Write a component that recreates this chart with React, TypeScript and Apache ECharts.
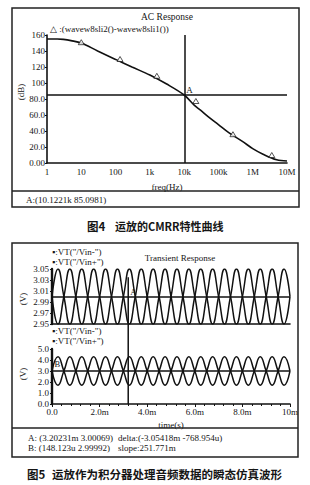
import React, { useEffect, useRef } from "react";
import * as echarts from "echarts";

// ---------- AC response (Fig.4) ----------
const acFreq = [1, 2, 3, 5, 10, 30, 100, 300, 1000, 3000, 10000, 20000, 30000, 50000, 100000, 200000, 500000, 1000000, 2000000, 5000000, 10000000];
const acDb = [155, 155, 154.5, 153, 150, 140, 129.5, 120, 110, 99, 85, 72, 66, 58, 48, 38, 27, 18, 11, 4, 2.5];
const acMarkFreq = [10, 135, 1600, 22000, 265000, 3600000];
const acMarkDb = [151, 130, 109, 77.5, 36, 10];
const acTickLabels = ["1", "10", "100", "1k", "10k", "100k", "1M", "10M"];
const acCursorFreq = 10122.1;
const acCursorDb = 85.0981;

// ---------- Transient response (Fig.5) ----------
const timeMs = [0, 0.25, 0.5, 0.75, 1, 1.25, 1.5, 1.75, 2, 2.25, 2.5, 2.75, 3, 3.25, 3.5, 3.75, 4, 4.25, 4.5, 4.75, 5, 5.25, 5.5, 5.75, 6, 6.25, 6.5, 6.75, 7, 7.25, 7.5, 7.75, 8, 8.25, 8.5, 8.75, 9, 9.25, 9.5, 9.75, 10];
const vinMinusTop = [3, 3.05, 3, 2.95, 3, 3.05, 3, 2.95, 3, 3.05, 3, 2.95, 3, 3.05, 3, 2.95, 3, 3.05, 3, 2.95, 3, 3.05, 3, 2.95, 3, 3.05, 3, 2.95, 3, 3.05, 3, 2.95, 3, 3.05, 3, 2.95, 3, 3.05, 3, 2.95, 3];
const vinPlusTop = [3, 2.95, 3, 3.05, 3, 2.95, 3, 3.05, 3, 2.95, 3, 3.05, 3, 2.95, 3, 3.05, 3, 2.95, 3, 3.05, 3, 2.95, 3, 3.05, 3, 2.95, 3, 3.05, 3, 2.95, 3, 3.05, 3, 2.95, 3, 3.05, 3, 2.95, 3, 3.05, 3];
const vinMinusBot = [3, 4.3, 3, 1.7, 3, 4.3, 3, 1.7, 3, 4.3, 3, 1.7, 3, 4.3, 3, 1.7, 3, 4.3, 3, 1.7, 3, 4.3, 3, 1.7, 3, 4.3, 3, 1.7, 3, 4.3, 3, 1.7, 3, 4.3, 3, 1.7, 3, 4.3, 3, 1.7, 3];
const vinPlusBot = [3, 1.7, 3, 4.3, 3, 1.7, 3, 4.3, 3, 1.7, 3, 4.3, 3, 1.7, 3, 4.3, 3, 1.7, 3, 4.3, 3, 1.7, 3, 4.3, 3, 1.7, 3, 4.3, 3, 1.7, 3, 4.3, 3, 1.7, 3, 4.3, 3, 1.7, 3, 4.3, 3];
const cursorAms = 3.20231;
const cursorAv = 3.00069;
const cursorBms = 0.148123;
const cursorBv = 2.99992;
const hLevel = 3.0;

const TXT = "#151515";
const LINE = "#111";
const SERIF = '"Liberation Serif", "Times New Roman", serif';
const CJK = '"Noto Sans CJK SC", sans-serif';

function txt(text: string, x: number, y: number, size = 9, extra: any = {}) {
  return {
    type: "text",
    style: {
      text,
      x,
      y,
      fill: TXT,
      fontFamily: SERIF,
      fontSize: size,
      textAlign: "left",
      textVerticalAlign: "middle",
      ...extra,
    },
    z: 10,
  };
}

export default function App() {
  const ref = useRef<HTMLDivElement>(null);

  useEffect(() => {
    if (!ref.current) return;
    const chart = echarts.init(ref.current, null, { renderer: "svg", width: 310, height: 485 });
    const axisLine = { show: true, onZero: false, lineStyle: { color: LINE, width: 1.6 } };
    const labelBase = { fontFamily: SERIF, fontSize: 9, color: TXT };
    const lineSeries = (data: number[], xi: number) => ({
      type: "line",
      xAxisIndex: xi,
      yAxisIndex: xi,
      data: timeMs.map((t, i) => [t, data[i]]),
      smooth: true,
      symbol: "none",
      lineStyle: { color: LINE, width: 1.5 },
      silent: true,
    });
    const hMark = (v: number) => ({
      symbol: "none",
      silent: true,
      label: { show: false },
      lineStyle: { color: LINE, width: 1.5, type: "solid" },
      data: [{ yAxis: v }],
    });

    const option: any = {
      animation: false,
      backgroundColor: "#fff",
      grid: [
        { left: 47, top: 35, width: 240, height: 128 },
        { left: 52, top: 269, width: 238, height: 55 },
        { left: 52, top: 349, width: 238, height: 55 },
      ],
      xAxis: [
        {
          gridIndex: 0,
          type: "log",
          logBase: 10,
          min: 1,
          max: 1e7,
          axisLine,
          axisTick: { show: false },
          splitLine: { show: false },
          axisLabel: {
            ...labelBase,
            margin: 4,
            formatter: (v: number) => acTickLabels[Math.round(Math.log10(v))] ?? "",
          },
          name: "freq(Hz)",
          nameLocation: "middle",
          nameGap: 19,
          nameTextStyle: labelBase,
        },
        {
          gridIndex: 1,
          type: "value",
          min: 0,
          max: 10,
          interval: 2,
          axisLine,
          axisTick: { show: false },
          axisLabel: { show: false },
          splitLine: { show: false },
        },
        {
          gridIndex: 2,
          type: "value",
          min: 0,
          max: 10,
          interval: 2,
          axisLine,
          axisTick: { show: true, length: 3, lineStyle: { color: LINE } },
          minorTick: { show: true, splitNumber: 5, length: 2, lineStyle: { color: LINE } },
          splitLine: { show: false },
          axisLabel: {
            ...labelBase,
            margin: 3,
            formatter: (v: number) => (v === 0 ? "0.0" : v === 10 ? "10m" : v.toFixed(1) + "m"),
          },
          name: "time(s)",
          nameLocation: "middle",
          nameGap: 16,
          nameTextStyle: labelBase,
        },
      ],
      yAxis: [
        {
          gridIndex: 0,
          type: "value",
          min: 0,
          max: 160,
          interval: 20,
          axisLine,
          axisTick: { show: true, length: 2, lineStyle: { color: LINE } },
          splitLine: { show: false },
          axisLabel: {
            ...labelBase,
            margin: 2,
            formatter: (v: number) => (v >= 100 ? String(v) : v === 0 ? "0.00" : v.toFixed(1)),
          },
        },
        {
          gridIndex: 1,
          type: "value",
          min: 2.95,
          max: 3.05,
          interval: 0.02,
          axisLine: { ...axisLine, lineStyle: { color: LINE, width: 2.4 } },
          axisTick: { show: true, length: 2, lineStyle: { color: LINE } },
          splitLine: { show: false },
          axisLabel: { ...labelBase, margin: 3, formatter: (v: number) => v.toFixed(2) },
        },
        {
          gridIndex: 2,
          type: "value",
          min: 0,
          max: 5,
          interval: 1,
          axisLine: { ...axisLine, lineStyle: { color: LINE, width: 2.4 } },
          axisTick: { show: true, length: 2, lineStyle: { color: LINE } },
          splitLine: { show: false },
          axisLabel: { ...labelBase, margin: 3, formatter: (v: number) => v.toFixed(1) },
        },
      ],
      series: [
        {
          type: "line",
          xAxisIndex: 0,
          yAxisIndex: 0,
          data: acFreq.map((f, i) => [f, acDb[i]]),
          smooth: 0.35,
          symbol: "none",
          lineStyle: { color: LINE, width: 1.6 },
          silent: true,
          markLine: {
            symbol: "none",
            silent: true,
            label: { show: false },
            lineStyle: { color: LINE, width: 1.5, type: "solid" },
            data: [{ xAxis: acCursorFreq }, { yAxis: acCursorDb }],
          },
        },
        {
          type: "scatter",
          xAxisIndex: 0,
          yAxisIndex: 0,
          data: acMarkFreq.map((f, i) => [f, acMarkDb[i]]),
          symbol: "triangle",
          symbolSize: [6, 5],
          itemStyle: { color: "#fff", borderColor: LINE, borderWidth: 0.9 },
          silent: true,
          z: 5,
        },
        { ...lineSeries(vinMinusTop, 1), markLine: hMark(hLevel) },
        lineSeries(vinPlusTop, 1),
        { ...lineSeries(vinMinusBot, 2), markLine: hMark(hLevel) },
        lineSeries(vinPlusBot, 2),
      ],
    };
    chart.setOption(option);

    const acA = chart.convertToPixel({ xAxisIndex: 0, yAxisIndex: 0 } as any, [acCursorFreq, acCursorDb]) as number[];
    const tA = chart.convertToPixel({ xAxisIndex: 1, yAxisIndex: 1 } as any, [cursorAms, cursorAv]) as number[];
    const tTop = chart.convertToPixel({ xAxisIndex: 1, yAxisIndex: 1 } as any, [cursorAms, 3.035]) as number[];
    const tBot = chart.convertToPixel({ xAxisIndex: 2, yAxisIndex: 2 } as any, [cursorAms, 0]) as number[];
    const tB = chart.convertToPixel({ xAxisIndex: 2, yAxisIndex: 2 } as any, [cursorBms, cursorBv]) as number[];

    const frame = (x: number, y: number, w: number, h: number, sep: number) => [
      {
        type: "rect",
        shape: { x, y, width: w, height: h },
        style: { fill: "none", stroke: "#222", lineWidth: 1.5 },
        z: 10,
      },
      {
        type: "line",
        shape: { x1: x, y1: sep, x2: x + w, y2: sep },
        style: { stroke: "#222", lineWidth: 1.3 },
        z: 10,
      },
    ];

    const graphic: any[] = [
      ...frame(12, 8, 287, 199, 191),
      ...frame(12, 243, 286, 214, 428),
      txt("AC Response", 167, 17, 9.5, { textAlign: "center" }),
      txt("\u25B3 :(wavew8sli2()-wavew8sli1())", 50, 29, 9),
      {
        type: "text",
        x: 21,
        y: 92,
        rotation: Math.PI / 2,
        style: { text: "(dB)", fill: TXT, fontFamily: SERIF, fontSize: 9, textAlign: "center", textVerticalAlign: "middle" },
        z: 10,
      },
      txt("A", acA[0] + 2, acA[1] - 5, 9),
      txt("A:(10.1221k 85.0981)", 26, 200, 9),
      txt("图4", 87, 226, 11.5, { fontFamily: CJK, fontWeight: "bold" }),
      txt("运放的CMRR特性曲线", 115, 226, 11, { fontFamily: CJK, fontWeight: "bold" }),

      txt("Transient Response", 180, 258, 9, { textAlign: "center" }),
      txt("\u25AA:VT(\"/Vin-\")", 52, 252, 9),
      txt("\u25AA:VT(\"/Vin+\")", 52, 262, 9),
      txt("\u25AA:VT(\"/Vin-\")", 52, 331, 9),
      txt("\u25AA:VT(\"/Vin+\")", 52, 341, 9),
      {
        type: "text",
        x: 23,
        y: 299,
        rotation: Math.PI / 2,
        style: { text: "(V)", fill: TXT, fontFamily: SERIF, fontSize: 9, textAlign: "center", textVerticalAlign: "middle" },
        z: 10,
      },
      {
        type: "text",
        x: 23,
        y: 374,
        rotation: Math.PI / 2,
        style: { text: "(V)", fill: TXT, fontFamily: SERIF, fontSize: 9, textAlign: "center", textVerticalAlign: "middle" },
        z: 10,
      },
      {
        type: "line",
        shape: { x1: tTop[0], y1: tTop[1], x2: tBot[0], y2: tBot[1] },
        style: { stroke: LINE, lineWidth: 1.5 },
        z: 9,
      },
      txt("A", tA[0] + 2, tA[1] - 4, 8.5),
      txt("B", tB[0] - 1, tB[1] - 7, 8.5),
      txt("A: (3.20231m 3.00069)", 28, 438, 9),
      txt("delta:(-3.05418m -768.954u)", 118, 438, 9),
      txt("B: (148.123u 2.99992)", 28, 448, 9),
      txt("slope:251.771m", 118, 448, 9),
      txt("图5", 27, 474, 11.5, { fontFamily: CJK, fontWeight: "bold" }),
      txt("运放作为积分器处理音频数据的瞬态仿真波形", 52, 474, 11.5, { fontFamily: CJK, fontWeight: "bold" }),
    ];
    chart.setOption({ graphic });

    return () => chart.dispose();
  }, []);

  return (
    <div
      ref={ref}
      style={{ position: "absolute", left: 0, top: 0, width: 310, height: 485, background: "#fff" }}
    />
  );
}
